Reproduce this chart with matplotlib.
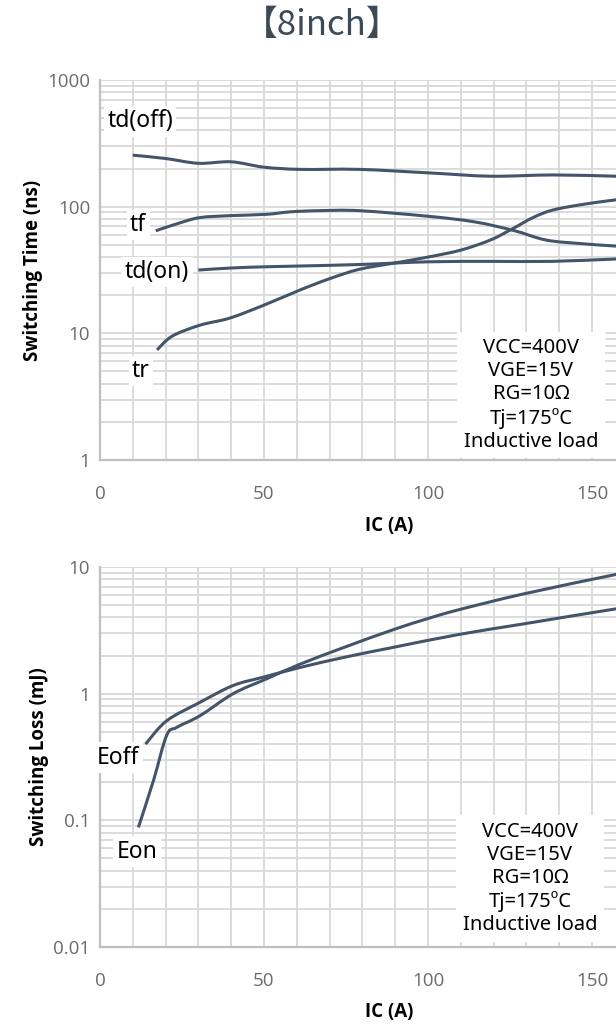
import numpy as np
import matplotlib
matplotlib.use("Agg")
from matplotlib import pyplot as plt
from matplotlib.path import Path
from matplotlib.patches import PathPatch

# switching time vs IC
td_off_ic = [10, 20, 30, 40, 50, 61, 79, 100, 119, 138, 157, 165]
td_off = [255, 240, 220, 226, 205, 197, 197, 185, 174, 178, 174, 172]

tf_ic = [17, 24, 30.5, 40, 50.8, 58, 67, 79, 100, 114, 126, 136, 147, 157, 165]
tf = [64.5, 74, 82, 85, 87, 91, 93, 93, 84, 76, 65, 54.5, 51, 48.9, 47.5]

td_on_ic = [30, 40, 50, 61, 80, 100, 120, 138, 157, 165]
td_on = [31.6, 32.8, 33.5, 34, 35, 36.7, 37, 37, 38.6, 39]

tr_ic = [17.4, 22, 30.5, 39.6, 50, 61, 70, 79, 90, 100, 110, 119, 126, 132, 138, 147, 157, 165]
tr = [7.4, 9.5, 11.6, 13.2, 16.7, 22, 27, 32, 36, 40, 45.4, 54.5, 67.4, 82, 94, 104, 113, 120]

# switching loss vs IC
eoff_ic = [13.9, 20.3, 30.5, 40.6, 49.8, 61, 75, 89.4, 109, 129, 157, 165]
eoff = [0.40, 0.61, 0.855, 1.16, 1.35, 1.61, 1.95, 2.32, 2.92, 3.55, 4.66, 4.95]

eon_ic = [11.7, 16.3, 20.3, 23.4, 30.5, 40.6, 50.8, 61, 75, 89.4, 99.6, 109, 129, 157, 165]
eon = [0.088, 0.206, 0.467, 0.542, 0.67, 1.0, 1.31, 1.71, 2.35, 3.2, 3.89, 4.57, 6.12, 8.7, 9.5]

cond_text = "VCC=400V\nVGE=15V\nRG=10\u03a9\nTj=175\u00baC\nInductive load"

line_col = "#44546a"
grid_col = "#d9d9d9"
tick_col = "#6b6b6b"

W, H = 616, 1024
fig = plt.figure(figsize=(W / 100, H / 100), dpi=100)


def px2x(px):
    return (px - 100) / 3.28


def smooth_line(ax, xs, ys):
    # Excel style smoothed line: Catmull-Rom through the points, drawn as bezier path in (x, log y)
    x = np.asarray(xs, float)
    ly = np.log10(ys)
    n = len(x)
    verts = [(x[0], ly[0])]
    codes = [Path.MOVETO]
    for i in range(n - 1):
        p0 = np.array([x[max(i - 1, 0)], ly[max(i - 1, 0)]])
        p1 = np.array([x[i], ly[i]])
        p2 = np.array([x[i + 1], ly[i + 1]])
        p3 = np.array([x[min(i + 2, n - 1)], ly[min(i + 2, n - 1)]])
        c1 = p1 + (p2 - p0) / 6
        c2 = p2 - (p3 - p1) / 6
        verts += [tuple(c1), tuple(c2), tuple(p2)]
        codes += [Path.CURVE4] * 3
    verts = [(vx, 10 ** vy) for vx, vy in verts]
    patch = PathPatch(Path(verts, codes), facecolor="none", edgecolor=line_col,
                      lw=2.2, zorder=3, capstyle="butt")
    ax.add_patch(patch)


def setup(ax, ylo, yhi, yticklabels):
    ax.set_xlim(0, 200)
    ax.set_yscale("log")
    ax.set_ylim(ylo, yhi)
    ax.set_xticks([0, 50, 100, 150])
    ax.set_xticks(np.arange(0, 201, 10), minor=True)
    decades = [ylo * 10 ** i for i in range(len(yticklabels))]
    ax.set_yticks(decades)
    ax.set_yticklabels(yticklabels)
    ax.yaxis.set_minor_locator(matplotlib.ticker.LogLocator(base=10, subs=np.arange(2, 10)))
    ax.yaxis.set_minor_formatter(matplotlib.ticker.NullFormatter())
    ax.grid(True, which="both", color=grid_col, lw=1.3, zorder=0)
    ax.tick_params(which="both", length=0, colors=tick_col, labelsize=13.5)
    ax.tick_params(axis="x", pad=18)
    ax.tick_params(axis="y", pad=7)
    for lab in ax.get_xticklabels() + ax.get_yticklabels():
        lab.set_fontfamily("Open Sans")
    for s in ["top", "right"]:
        ax.spines[s].set_visible(False)
    for s in ["left", "bottom"]:
        ax.spines[s].set_color("#bfbfbf")
        ax.spines[s].set_linewidth(1.6)
    ax.set_xlabel("IC (A)", fontsize=13.5, fontweight="bold", family="Open Sans",
                  labelpad=9, x=(389 - 100) / 656.0)
    ax.set_axisbelow(True)


def label(ax, x, y, s):
    ax.text(x, y, s, fontsize=16.5, family="Noto Sans", ha="center", va="center",
            bbox=dict(facecolor="white", edgecolor="none", pad=2.5), zorder=5)


ax1 = fig.add_axes([100 / W, (H - 460) / H, 656 / W, 380 / H])
setup(ax1, 1, 1000, ["1", "10", "100", "1000"])
ax1.set_ylabel("Switching Time (ns)", fontsize=13.5, fontweight="bold", family="Open Sans", labelpad=3)
for xs, ys in [(td_off_ic, td_off), (tf_ic, tf), (td_on_ic, td_on), (tr_ic, tr)]:
    smooth_line(ax1, xs, ys)
label(ax1, px2x(140), 10 ** ((460 - 121) / 126.7), "td(off)")
label(ax1, px2x(138), 10 ** ((460 - 225) / 126.7), "tf")
label(ax1, px2x(157), 10 ** ((460 - 272) / 126.7), "td(on)")
label(ax1, px2x(141), 10 ** ((460 - 371) / 126.7), "tr")
ax1.text(px2x(531), 10 ** ((460 - 395) / 126.7), cond_text, fontsize=14.5, family="Noto Sans",
         ha="center", va="center", linespacing=1.2,
         bbox=dict(facecolor="white", edgecolor="none", pad=5), zorder=5)

ax2 = fig.add_axes([100 / W, (H - 947) / H, 656 / W, 380 / H])
setup(ax2, 0.01, 10, ["0.01", "0.1", "1", "10"])
ax2.set_ylabel("Switching Loss (mJ)", fontsize=13.5, fontweight="bold", family="Open Sans", labelpad=3)
for xs, ys in [(eoff_ic, eoff), (eon_ic, eon)]:
    smooth_line(ax2, xs, ys)
label(ax2, px2x(118), 10 ** ((693 - 757) / 126.7), "Eoff")
label(ax2, px2x(137), 10 ** ((693 - 851) / 126.7), "Eon")
ax2.text(px2x(530), 10 ** ((693 - 878) / 126.7), cond_text, fontsize=14.5, family="Noto Sans",
         ha="center", va="center", linespacing=1.2,
         bbox=dict(facecolor="white", edgecolor="none", pad=5), zorder=5)

fig.text(322 / W, 1 - 25 / H, "\u30108inch\u3011", fontsize=25, color="#3c4a57",
         family=["Noto Sans CJK JP", "DejaVu Sans"], ha="center", va="center")

fig.savefig("out.png", dpi=100)
